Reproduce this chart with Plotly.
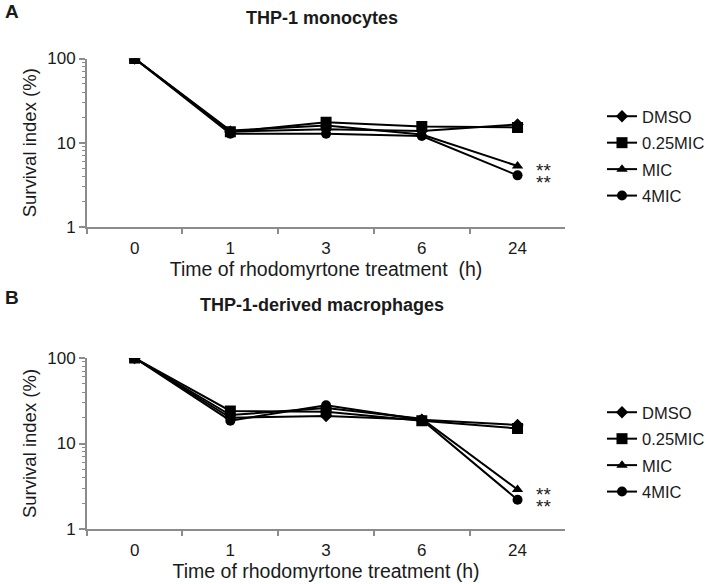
import math
import plotly.graph_objects as go

# ---------------- data ----------------
times = ["0", "1", "3", "6", "24"]
series_names = ["DMSO", "0.25MIC", "MIC", "4MIC"]
symbols = ["diamond", "square", "triangle-up", "circle"]

# Panel A: THP-1 monocytes (survival index, %)
a_dmso = [100, 13.5, 14.5, 13.8, 16.5]
a_025mic = [100, 13.5, 17.5, 15.6, 15.2]
a_mic = [100, 14.0, 16.0, 12.5, 5.3]
a_4mic = [100, 12.8, 12.8, 12.0, 4.1]

# Panel B: THP-1-derived macrophages (survival index, %)
b_dmso = [100, 20.0, 21.0, 19.0, 16.5]
b_025mic = [100, 24.0, 23.5, 18.5, 15.0]
b_mic = [100, 21.5, 26.0, 19.5, 2.9]
b_4mic = [100, 18.5, 28.0, 19.0, 2.2]

panel_titles = ["THP-1 monocytes", "THP-1-derived macrophages"]
panel_letters = ["A", "B"]
x_titles = ["Time of rhodomyrtone treatment\u00a0 (h)", "Time of rhodomyrtone treatment (h)"]
y_title = "Survival index (%)"
sig_label = "**"

FONT = "Liberation Sans, Arial, sans-serif"
TXT = "#1a1a1a"
AX = "#8c8c8c"

W, H = 710, 584


def px_x(v):
    return v / W


def px_y(v):
    return 1 - v / H


fig = go.Figure()

panels = [
    ([a_dmso, a_025mic, a_mic, a_4mic], "x", "y", "legend"),
    ([b_dmso, b_025mic, b_mic, b_4mic], "x2", "y2", "legend2"),
]
marker_sizes = {"diamond": 9.5, "square": 11, "triangle-up": 10, "circle": 10}

# drawing order (square series drawn last so it sits on top at t=0)
draw_order = [3, 2, 0, 1]
for data, xa, ya, lg in panels:
    for i in draw_order:
        name, vals, sym = series_names[i], data[i], symbols[i]
        fig.add_trace(go.Scatter(
            x=times, y=vals, name=name, mode="lines+markers",
            line=dict(color="black", width=2),
            marker=dict(symbol=sym, size=marker_sizes[sym], color="black"),
            xaxis=xa, yaxis=ya, legend=lg, legendgroup=lg + name, legendrank=100 + i,
        ))

xdom = [px_x(87), px_x(567)]
ydomA = [px_y(227), px_y(58.5)]
ydomB = [px_y(529), px_y(358)]

xaxis_common = dict(
    type="category", range=[-0.5, 4.5], showline=True, linecolor=AX, linewidth=1.5,
    ticks="outside", ticklen=5, tickcolor=AX, tickwidth=1.5, tickson="boundaries",
    showgrid=False, zeroline=False, automargin=False, ticklabelstandoff=5,
    tickfont=dict(family=FONT, size=17, color=TXT),
    title_font=dict(family=FONT, size=19.5, color=TXT), title_standoff=5,
    domain=xdom,
)
yaxis_common = dict(
    type="log", range=[0, 2], showline=True, linecolor=AX, linewidth=1.5,
    ticks="outside", ticklen=6, tickcolor=AX, tickwidth=1.5,
    tickvals=[1, 10, 100], ticktext=["1", "10", "100"],
    minor=dict(ticks="outside", ticklen=3, tickcolor=AX, tickwidth=1, dtick="D1", showgrid=False),
    showgrid=False, zeroline=False, automargin=False,
    tickfont=dict(family=FONT, size=17, color=TXT),
    title_font=dict(family=FONT, size=18.5, color=TXT), title_standoff=6,
)

legend_common = dict(xanchor="left", yanchor="top", traceorder="grouped",
                     font=dict(family=FONT, size=16.5, color=TXT), tracegroupgap=2,
                     bgcolor="rgba(0,0,0,0)")

fig.update_layout(
    width=W, height=H,
    margin=dict(l=0, r=0, t=0, b=0),
    paper_bgcolor="white", plot_bgcolor="white",
    font=dict(family=FONT, color=TXT),
    xaxis=dict(xaxis_common, anchor="y", title_text=x_titles[0]),
    yaxis=dict(yaxis_common, anchor="x", domain=ydomA, title_text=y_title),
    xaxis2=dict(xaxis_common, anchor="y2", title_text=x_titles[1]),
    yaxis2=dict(yaxis_common, anchor="x2", domain=ydomB, title_text=y_title),
    legend=dict(legend_common, x=px_x(604), y=px_y(99)),
    legend2=dict(legend_common, x=px_x(604), y=px_y(395)),
    showlegend=True,
)

annotations = []
# panel titles and letters
for title, letter, ty, ly in zip(panel_titles, panel_letters, [18, 305], [12, 297]):
    annotations.append(dict(text="<b>%s</b>" % title, x=px_x(323), y=px_y(ty), xref="paper", yref="paper",
                            showarrow=False, font=dict(family=FONT, size=18, color=TXT),
                            xanchor="center", yanchor="middle"))
    annotations.append(dict(text="<b>%s</b>" % letter, x=px_x(3), y=px_y(ly), xref="paper", yref="paper",
                            showarrow=False, font=dict(family=FONT, size=19, color=TXT),
                            xanchor="left", yanchor="middle"))
# significance marks next to the MIC and 4MIC end points
last = len(times) - 1
for xa, ya, mic, mic4 in [("x", "y", a_mic, a_4mic), ("x2", "y2", b_mic, b_4mic)]:
    for vals, dy in [(mic, -5), (mic4, -7)]:
        annotations.append(dict(text=sig_label, x=last, y=math.log10(vals[-1]), xref=xa, yref=ya,
                                showarrow=False, xshift=26, yshift=dy,
                                font=dict(family=FONT, size=19, color=TXT)))
fig.update_layout(annotations=annotations)

# the page's default body margin would shift the figure by 8px; remove it
fig.write_html("out.html", config={"displayModeBar": False},
               post_script="document.body.style.margin='0';")
